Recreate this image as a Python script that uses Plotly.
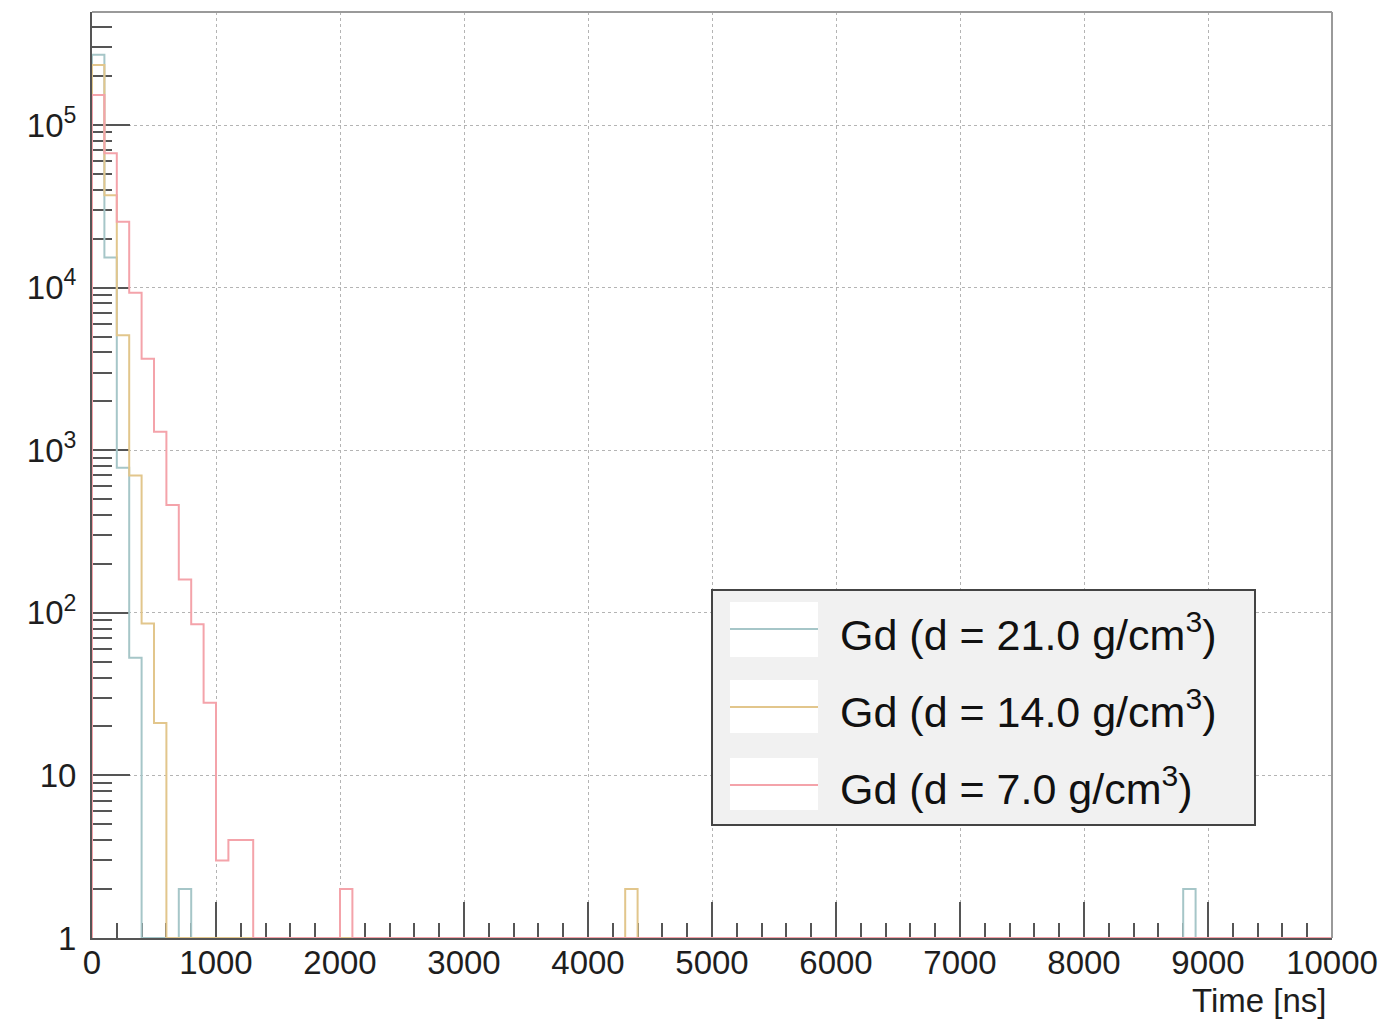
import plotly.graph_objects as go

# ---------------- data ----------------
bin_width = 100          # ns
x_min, x_max = 0, 10000  # ns

# counts per 100 ns bin, starting at t = 0
gd21_counts = [270000, 15300, 780, 53, 0, 0, 0, 2]
gd14_counts = [234000, 37000, 5100, 700, 86, 21]
gd7_counts = [153000, 67000, 25400, 9300, 3650, 1300, 460, 160, 85, 28, 3, 4, 4]

# isolated late bins (left edge in ns, count)
gd21_late_bins = [8800]
gd21_late_counts = [2]
gd14_late_bins = [4300]
gd14_late_counts = [2]
gd7_late_bins = [2000]
gd7_late_counts = [2]

labels = ["Gd (d = 21.0 g/cm<sup>3</sup>)",
          "Gd (d = 14.0 g/cm<sup>3</sup>)",
          "Gd (d = 7.0 g/cm<sup>3</sup>)"]
colors = ["#a6c6c8", "#e2c68c", "#f4a3aa"]

y_tickvals = [1, 10, 100, 1000, 10000, 100000]
y_ticktext = ["1", "10", "10<sup>2</sup>", "10<sup>3</sup>", "10<sup>4</sup>", "10<sup>5</sup>"]
x_tickvals = [0, 1000, 2000, 3000, 4000, 5000, 6000, 7000, 8000, 9000, 10000]
x_ticktext = ["0", "1000", "2000", "3000", "4000", "5000", "6000", "7000", "8000", "9000", "10000"]
y_log_range = [0, 5.695]
y_floor = 1  # empty bins are drawn on the frame bottom (ROOT style)


def full_hist(early, late_bins, late_counts):
    n = (x_max - x_min) // bin_width
    counts = [0] * n
    for i, c in enumerate(early):
        counts[i] = c
    for b, c in zip(late_bins, late_counts):
        counts[(b - x_min) // bin_width] = c
    return counts


def step_xy(counts):
    xs = [x_min]
    ys = [y_floor]
    for i, c in enumerate(counts):
        xs.append(x_min + i * bin_width)
        ys.append(c if c > 0 else y_floor)
    xs.append(x_max)
    ys.append(ys[-1])
    xs.append(x_max)
    ys.append(y_floor)
    return xs, ys


series = [
    full_hist(gd21_counts, gd21_late_bins, gd21_late_counts),
    full_hist(gd14_counts, gd14_late_bins, gd14_late_counts),
    full_hist(gd7_counts, gd7_late_bins, gd7_late_counts),
]

fig = go.Figure()
for counts, lab, col in zip(series, labels, colors):
    xs, ys = step_xy(counts)
    fig.add_trace(go.Scatter(x=xs, y=ys, mode="lines", line=dict(color=col, width=2, shape="hv"),
                             name=lab, showlegend=False, hoverinfo="skip"))

# ---------------- layout ----------------
OFF = 8  # page body margin
W, H = 1378, 1017
L, R, T, B = 92 - OFF, 1332 - OFF, 12 - OFF, 938 - OFF
font_family = "Liberation Sans, Arial, sans-serif"
tick_font = dict(family=font_family, size=33, color="#1e1e1e")

fig.update_layout(
    width=W, height=H,
    margin=dict(l=L, r=W - R, t=T, b=H - B, pad=0),
    paper_bgcolor="white", plot_bgcolor="white",
    showlegend=False,
)

fig.update_xaxes(
    range=[x_min, x_max], tickmode="array", tickvals=x_tickvals, ticktext=x_ticktext,
    ticks="inside", ticklen=36, tickwidth=2, tickcolor="#555555",
    minor=dict(ticks="inside", ticklen=15, tickwidth=2, tickcolor="#555555", dtick=200, showgrid=False),
    showgrid=True, gridcolor="#b4b4b4", gridwidth=1, griddash="dot",
    showline=True, linecolor="#555555", linewidth=2,
    zeroline=False, tickfont=tick_font, ticklabelstandoff=-6,
    layer="below traces",
)

minor_vals = [m * 10 ** k for k in range(0, 6) for m in range(2, 10)]
fig.update_yaxes(
    type="log", range=y_log_range, tickmode="array", tickvals=y_tickvals, ticktext=y_ticktext,
    ticks="inside", ticklen=38, tickwidth=2, tickcolor="#555555",
    minor=dict(ticks="inside", ticklen=20, tickwidth=2, tickcolor="#555555",
               tickmode="array", tickvals=minor_vals, showgrid=False),
    showgrid=True, gridcolor="#b4b4b4", gridwidth=1, griddash="dot",
    showline=True, linecolor="#555555", linewidth=2,
    zeroline=False, tickfont=tick_font, ticklabelstandoff=7,
    layer="below traces",
)


def px_x(p):
    return (p - OFF - L) / (R - L)


def px_y(p):
    return (B - (p - OFF)) / (B - T)


shapes = []
# grey top and right frame lines
shapes.append(dict(type="line", xref="paper", yref="paper", x0=0, x1=1, y0=1, y1=1,
                   line=dict(color="#9a9a9a", width=2)))
shapes.append(dict(type="line", xref="paper", yref="paper", x0=1, x1=1, y0=0, y1=1,
                   line=dict(color="#9a9a9a", width=2)))
# legend box
shapes.append(dict(type="rect", xref="paper", yref="paper",
                   x0=px_x(712), x1=px_x(1255), y0=px_y(825), y1=px_y(590),
                   fillcolor="#f1f1f1", line=dict(color="#444444", width=2), layer="above"))
entry_boxes = [(602, 657, 629), (680, 733, 707), (758, 810, 785)]
text_y = [632, 709, 786]
annotations = []
for (y0, y1, yl), ty, lab, col in zip(entry_boxes, text_y, labels, colors):
    shapes.append(dict(type="rect", xref="paper", yref="paper",
                       x0=px_x(730), x1=px_x(818), y0=px_y(y1), y1=px_y(y0),
                       fillcolor="white", line=dict(width=0), layer="above"))
    shapes.append(dict(type="line", xref="paper", yref="paper",
                       x0=px_x(730), x1=px_x(818), y0=px_y(yl), y1=px_y(yl),
                       line=dict(color=col, width=2), layer="above"))
    annotations.append(dict(xref="paper", yref="paper", x=px_x(838), y=px_y(ty),
                            xanchor="left", yanchor="middle", showarrow=False, text=lab,
                            font=dict(family=font_family, size=43, color="#111111")))

annotations.append(dict(xref="paper", yref="paper", x=px_x(1328), y=px_y(1001),
                        xanchor="right", yanchor="middle", showarrow=False, text="Time [ns]",
                        font=dict(family=font_family, size=33, color="#1e1e1e")))

fig.update_layout(shapes=shapes, annotations=annotations)

fig.write_html("out.html")
